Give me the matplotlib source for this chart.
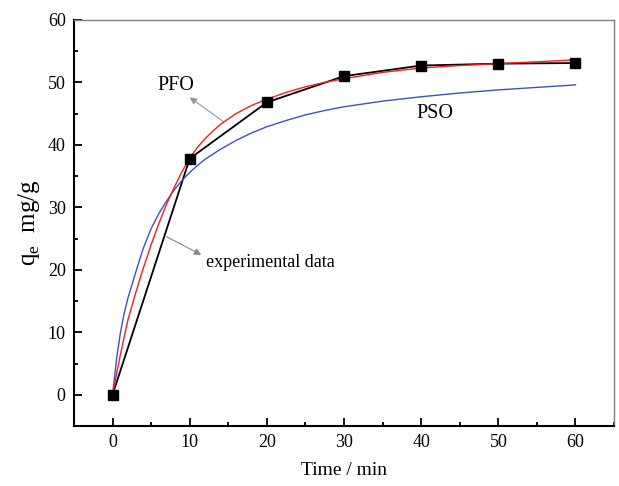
import matplotlib
matplotlib.use("Agg")
import matplotlib.pyplot as plt
from matplotlib.ticker import MultipleLocator

# experimental data
t_exp = [0, 10, 20, 30, 40, 50, 60]
q_exp = [0, 37.8, 46.8, 51.0, 52.7, 53.0, 53.1]

# PFO fit curve
t_pfo = [0, 0.5, 1, 1.5, 2, 3, 4, 5, 6, 7, 8, 9, 10, 11, 12, 13, 14, 16, 18, 20, 22.5, 25, 27.5,
         30, 35, 40, 45, 50, 55, 60]
q_pfo = [0, 3.2, 6.3, 9.2, 12.0, 16.3, 20.3, 24.0, 27.4, 30.5, 33.2, 35.7, 37.9, 39.6, 41.0,
         42.2, 43.3, 45.0, 46.3, 47.3, 48.4, 49.3, 50.0, 50.6, 51.6, 52.3, 52.7, 53.0, 53.3, 53.6]

# PSO fit curve
t_pso = [0, 0.5, 1, 1.5, 2, 3, 4, 5, 6, 7, 8, 9, 10, 11, 12, 13, 14, 16, 18, 20, 22.5, 25, 27.5,
         30, 35, 40, 45, 50, 55, 60]
q_pso = [0, 5.5, 9.8, 13.0, 15.5, 19.6, 23.5, 26.6, 29.0, 31.0, 32.8, 34.3, 35.6, 36.7, 37.7,
         38.5, 39.3, 40.7, 41.9, 42.9, 43.9, 44.8, 45.5, 46.1, 47.0, 47.7, 48.3, 48.8, 49.2, 49.6]

plt.rcParams["font.family"] = ["Liberation Serif", "DejaVu Serif"]
plt.rcParams["mathtext.fontset"] = "custom"
plt.rcParams["mathtext.rm"] = "Liberation Serif"

fig = plt.figure(figsize=(6.19, 4.86), dpi=100)
ax = fig.add_axes([0.1195, 0.1235, 0.8725, 0.8355])

ax.plot(t_exp, q_exp, color="black", lw=1.3, zorder=2)
ax.plot(t_pso, q_pso, color="#3b52c4", lw=1.0, zorder=3)
ax.plot(t_pfo, q_pfo, color="#ff1a1a", lw=1.0, zorder=4)
ax.plot(t_exp, q_exp, ls="none", marker="s", ms=6.8, color="black", zorder=5)

ax.set_xlim(-5, 65)
ax.set_ylim(-5, 60)
ax.xaxis.set_major_locator(MultipleLocator(10))
ax.xaxis.set_minor_locator(MultipleLocator(5))
ax.yaxis.set_major_locator(MultipleLocator(10))
ax.yaxis.set_minor_locator(MultipleLocator(5))
ax.set_xticks([0, 10, 20, 30, 40, 50, 60])
ax.tick_params(which="both", direction="in", width=1.3, labelsize=13, pad=6)
ax.tick_params(which="major", length=6)
ax.tick_params(which="minor", length=3)

for s in ["left", "bottom"]:
    ax.spines[s].set_linewidth(1.5)
    ax.spines[s].set_color("black")
for s in ["top", "right"]:
    ax.spines[s].set_linewidth(1.0)
    ax.spines[s].set_color("#808080")

ax.set_xlabel("Time / min", fontsize=14, labelpad=8)
ax.set_ylabel(r"q$_\mathregular{e}$  mg/g", fontsize=18, labelpad=4)

# annotations
ax.annotate("", xy=(10.0, 47.6), xytext=(14.4, 43.7),
            arrowprops=dict(arrowstyle="-|>", color="#999999", lw=0.8,
                            mutation_scale=10, shrinkA=0, shrinkB=0))
ax.text(8.2, 49.5, "PFO", fontsize=14.5, ha="center", va="center")
ax.annotate("", xy=(11.5, 22.4), xytext=(7.0, 25.3),
            arrowprops=dict(arrowstyle="-|>", color="#888888", lw=0.8,
                            mutation_scale=10, shrinkA=0, shrinkB=0))
ax.text(12.1, 21.1, "experimental data", fontsize=13, ha="left", va="center")
ax.text(41.8, 45.0, "PSO", fontsize=14.5, ha="center", va="center")

fig.savefig("out.png", dpi=100)
